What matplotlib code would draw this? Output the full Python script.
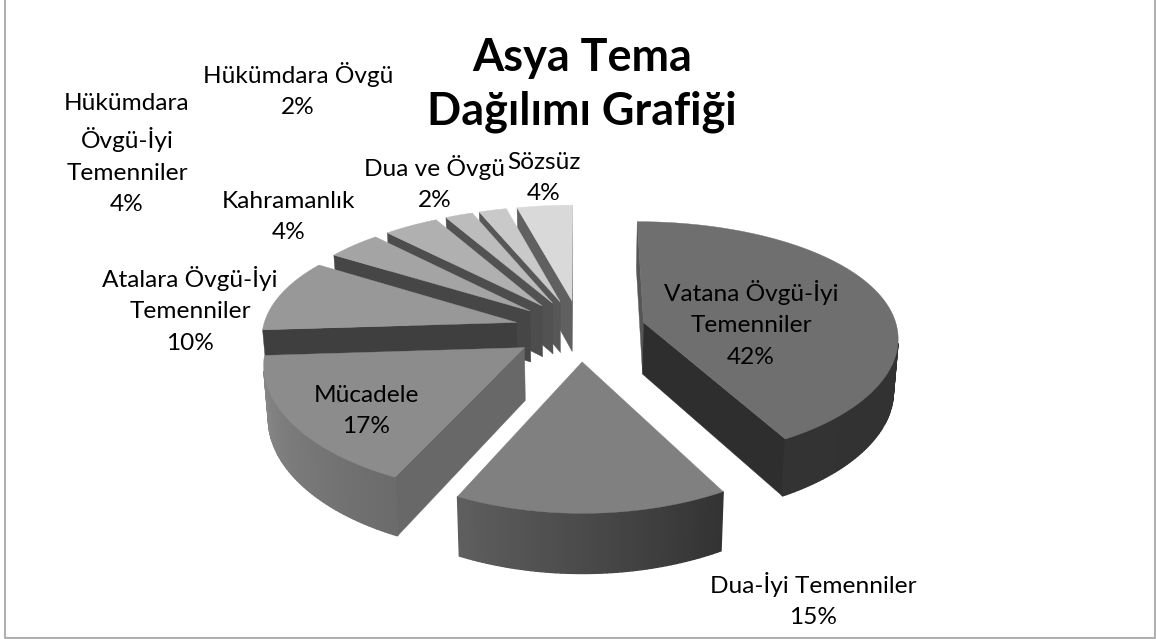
import numpy as np
import matplotlib
matplotlib.use('Agg')
import matplotlib.pyplot as plt
from matplotlib.patches import Polygon
from matplotlib.lines import Line2D

plt.rcParams['font.family'] = ['Lato', 'DejaVu Sans']

# data
categories = ['Vatana Övgü-İyi\nTemenniler', 'Dua-İyi Temenniler', 'Mücadele',
              'Atalara Övgü-İyi\nTemenniler', 'Kahramanlık',
              'Hükümdara\nÖvgü-İyi\nTemenniler', 'Hükümdara Övgü',
              'Dua ve Övgü', 'Sözsüz']
values = [42, 15, 17, 10, 4, 4, 2, 2, 4]
title = 'Asya Tema\nDağılımı Grafiği'

# colours per slice
top_colors = ['#6f6f6f', '#808080', '#8c8c8c', '#989898', '#a4a4a4',
              '#b0b0b0', '#bcbcbc', '#c9c9c9', '#d9d9d9']
start_face = ['#565656', '#555555', '#686868', '#3f3f3f', '#464646',
              '#4d4d4d', '#525252', '#575757', '#606060']
end_face = ['#2e2e2e', '#3a3a3a', '#686868', '#3f3f3f', '#464646',
            '#4d4d4d', '#525252', '#575757', '#606060']
# wall gradient: value at the start and at the end of the slice's arc
wall_start = [0.18, 0.20, 0.42, 0.30, 0.30, 0.35, 0.35, 0.35, 0.40]
wall_end = [0.20, 0.37, 0.54, 0.30, 0.30, 0.35, 0.35, 0.35, 0.40]

# label centres, in pixels
label_pos = [(751, 324), (813, 600), (366, 411), (190, 310), (289, 217),
             (127, 154), (298, 90), (435, 183), (544, 178)]

# pie geometry, in pixels
cx, cy = 580, 330
rx, ry = 254, 118
explode = 0.26
persp = 0.15
depth = 52


def project(X, Y, low=False):
    s = 1 / (1 - persp * Y)
    x = cx + rx * X * s ** 0.75
    y = cy + ry * Y * s
    if low:
        x = cx + (x - cx) * 0.985
        y = y + depth * s ** 0.7
    return x, y


def area(pts):
    pts = np.array(pts)
    x, y = pts[:, 0], pts[:, 1]
    return 0.5 * np.sum(x * np.roll(y, -1) - y * np.roll(x, -1))


fig = plt.figure(figsize=(11.56, 6.39), dpi=100)
ax = fig.add_axes([0, 0, 1, 1])
ax.set_xlim(0, 1156)
ax.set_ylim(639, 0)
ax.axis('off')

# chart border, the top side falls outside the picture
ax.add_line(Line2D([4.5, 4.5, 1155, 1155], [0, 638, 638, 0], color='#b0b0b0', lw=1.5))

edges = np.cumsum([0] + values) / sum(values) * 2 * np.pi

# back slices first: the later a slice is in the list, the further back
for i in range(len(values) - 1, -1, -1):
    a0, a1 = edges[i], edges[i + 1]
    mid = (a0 + a1) / 2
    ox, oy = explode * np.sin(mid), -explode * np.cos(mid)
    t = np.linspace(a0, a1, max(int(np.degrees(a1 - a0)), 4) + 1)
    X = ox + np.sin(t)
    Y = oy - np.cos(t)
    top = [project(a, b) for a, b in zip(X, Y)]
    low = [project(a, b, True) for a, b in zip(X, Y)]
    apex = project(ox, oy)
    apex_low = project(ox, oy, True)

    # radial faces
    f0 = [apex, top[0], low[0], apex_low]
    f1 = [apex, top[-1], low[-1], apex_low]
    if area(f0) < 0:
        ax.add_patch(Polygon(f0, fc=start_face[i], ec=start_face[i], lw=0.3))
    if area(f1) > 0:
        ax.add_patch(Polygon(f1, fc=end_face[i], ec=end_face[i], lw=0.3))

    # outer wall, one strip per step
    for k in range(len(t) - 1):
        q = [top[k], top[k + 1], low[k + 1], low[k]]
        if area(q) < 0:
            frac = k / max(len(t) - 2, 1)
            v = wall_start[i] + (wall_end[i] - wall_start[i]) * frac
            c = (v, v, v)
            ax.add_patch(Polygon(q, fc=c, ec=c, lw=1))

    ax.add_patch(Polygon([apex] + top, fc=top_colors[i], ec=top_colors[i], lw=0.3))

total = sum(values)
for name, v, pos in zip(categories, values, label_pos):
    ax.text(pos[0], pos[1], f'{name}\n{round(100 * v / total)}%', ha='center',
            va='center', fontsize=17.6, color='black', linespacing=1.62)

ax.text(582, 85, title, ha='center', va='center', fontsize=32.4, fontweight='bold',
        color='black', linespacing=1.36)

fig.savefig('out.png', dpi=100)
